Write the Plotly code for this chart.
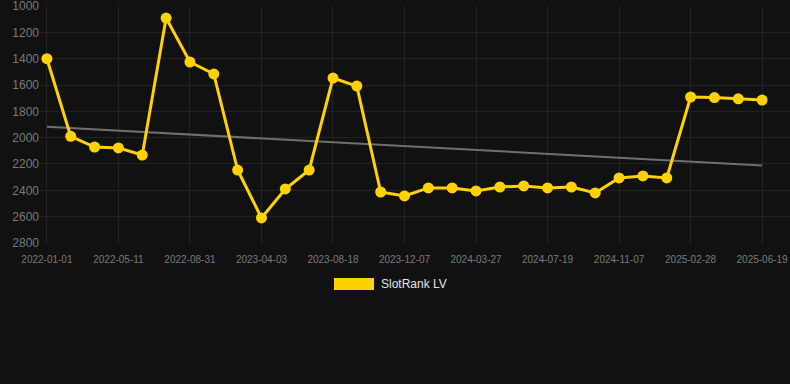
import numpy as np
import plotly.graph_objects as go

dates = [
    "2022-01-01", "2022-02-13", "2022-03-28", "2022-05-11", "2022-06-17", "2022-07-24",
    "2022-08-31", "2022-11-11", "2023-01-22", "2023-04-03", "2023-05-18", "2023-07-02",
    "2023-08-18", "2023-09-24", "2023-10-31", "2023-12-07", "2024-01-13", "2024-02-19",
    "2024-03-27", "2024-05-04", "2024-06-11", "2024-07-19", "2024-08-25", "2024-10-01",
    "2024-11-07", "2024-12-14", "2025-01-21", "2025-02-28", "2025-04-07", "2025-05-13",
    "2025-06-19",
]
ranks = [
    1400, 1990, 2071, 2078, 2132, 1091,
    1425, 1516, 2246, 2610, 2390, 2246,
    1547, 1608, 2413, 2443, 2382, 2382,
    2405, 2375, 2367, 2382, 2375, 2420,
    2306, 2291, 2306, 1691, 1695, 1705,
    1714,
]
tick_labels = dates[::3]
y_ticks = [1000, 1200, 1400, 1600, 1800, 2000, 2200, 2400, 2600, 2800]
series_name = "SlotRank LV"

idx = np.arange(len(ranks))
slope, intercept = np.polyfit(idx, ranks, 1)
trend = [intercept, intercept + slope * idx[-1]]

gold = "#FFD200"
fig = go.Figure()
fig.add_trace(go.Scatter(
    x=[dates[0], dates[-1]], y=trend, mode="lines",
    line=dict(color="#6f6f6f", width=2), showlegend=False, hoverinfo="skip",
))
fig.add_trace(go.Scatter(
    x=dates, y=ranks, mode="lines+markers", name=series_name,
    line=dict(color=gold, width=3), marker=dict(color=gold, size=11),
    showlegend=False,
))

H_PLOT = 237
fig.add_shape(type="rect", xref="paper", yref="paper",
              x0=(334 - 40) / 750, x1=(374 - 40) / 750,
              y0=(243 - 290) / H_PLOT, y1=(243 - 278) / H_PLOT,
              fillcolor=gold, line=dict(width=0))
fig.add_annotation(text=series_name, xref="paper", yref="paper",
                   x=(379 - 40) / 750, y=(243 - 284) / H_PLOT,
                   xanchor="left", yanchor="middle", showarrow=False,
                   font=dict(color="#e6e6e6", size=12, family="Liberation Sans, Arial, sans-serif"))

fig.update_layout(
    width=790, height=384,
    paper_bgcolor="#111111", plot_bgcolor="#111111",
    margin=dict(l=40, r=0, t=6, b=141),
    font=dict(family="Liberation Sans, Arial, sans-serif", color="#7a7a7a", size=11),
    showlegend=False,
)
fig.update_xaxes(
    type="category", categoryorder="array", categoryarray=dates,
    tickmode="array", tickvals=tick_labels, ticktext=tick_labels,
    range=[-0.29, 31.17], showgrid=True, gridcolor="#222222", gridwidth=1,
    zeroline=False, showline=False, ticks="", tickangle=0,
    tickfont=dict(size=10, color="#7a7a7a"), ticklabelstandoff=9,
    ticklabeloverflow="allow",
)
fig.update_yaxes(
    range=[2800.5, 999.5], tickvals=y_ticks,
    showgrid=True, gridcolor="#222222", gridwidth=1, zeroline=False, showline=False,
    ticks="", tickfont=dict(size=12, color="#7a7a7a"), ticklabeloverflow="allow",
)
fig.write_html("out.html", config={"displayModeBar": False},
               post_script="document.body.style.margin='0';document.body.style.padding='0';document.body.style.background='#111111';")
